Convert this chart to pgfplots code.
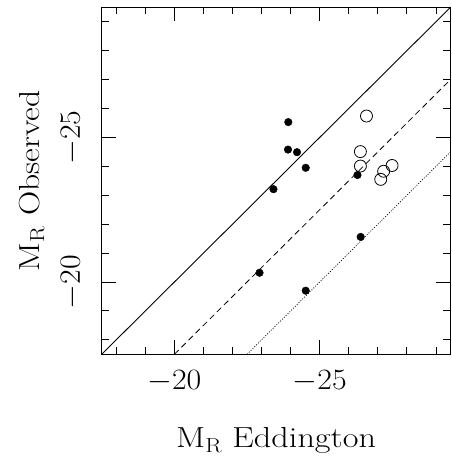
\RequirePackage{fix-cm}
\documentclass[border=0pt]{standalone}
\usepackage{pgfplots}
\usepackage{graphicx}
\pgfplotsset{compat=1.18}
\begin{document}
\begin{tikzpicture}
\path[use as bounding box] (-101.7pt,-103.7pt) rectangle (349.3pt,354.3pt);
\begin{axis}[
  at={(0pt,0pt)}, anchor=south west,
  scale only axis, width=348.8pt, height=347pt,
  x dir=reverse, y dir=reverse,
  xmin=-29.5, xmax=-17.5, ymin=-29.5, ymax=-17.5,
  xtick={-20,-25}, ytick={-20,-25},
  xticklabels={\scalebox{1.08}[1]{$-20$}, \scalebox{1.08}[1]{$-25$}},
  yticklabels={\scalebox{1.08}[1]{$-20$}, \scalebox{1.08}[1]{$-25$}},
  minor xtick={-18,-19,-21,-22,-23,-24,-26,-27,-28,-29},
  minor ytick={-18,-19,-21,-22,-23,-24,-26,-27,-28,-29},
  tick align=inside, major tick length=14pt, minor tick length=7pt,
  axis line style={line width=1.1pt},
  every tick/.style={black, line width=0.9pt},
  ticklabel style={font=\fontsize{29.5}{34}\selectfont},
  xticklabel style={anchor=base, inner sep=0pt, yshift=-35pt},
  yticklabel style={anchor=base, inner sep=0pt, xshift=-21.7pt, rotate=90},
  every axis x label/.style={at={([yshift=-93.4pt]axis description cs:0.5,0)}, anchor=base, font=\fontsize{29}{34}\selectfont},
  every axis y label/.style={at={([xshift=-62pt]axis description cs:0,0.5)}, anchor=base, rotate=90, font=\fontsize{29}{34}\selectfont},
  xlabel={\scalebox{1.18}[1]{M$_{\mathrm{R}}$ Eddington}},
  ylabel={\scalebox{1.16}[1]{M$_{\mathrm{R}}$ Observed}},
  clip=true,
]
\addplot[black, line width=0.9pt] coordinates {(-17.5,-17.5) (-29.5,-29.5)};
\addplot[black, line width=0.8pt, dash pattern=on 6pt off 4pt] coordinates {(-20,-17.5) (-29.5,-27)};
\addplot[black, line width=0.7pt, dash pattern=on 1pt off 1.6pt] coordinates {(-22.5,-17.5) (-29.5,-24.5)};
% filled points
\addplot[only marks, mark=*, mark size=3.8pt, black] coordinates {
(-23.92,-25.53) (-23.91,-24.58) (-24.22,-24.49) (-24.52,-23.95) (-23.41,-23.21)
(-26.30,-23.70) (-26.41,-21.56) (-22.93,-20.32) (-24.52,-19.70)
};
% open points
\addplot[only marks, mark=o, mark size=6pt, black, line width=0.8pt] coordinates {
(-26.61,-25.74) (-26.40,-24.51) (-26.40,-24.01) (-27.20,-23.83) (-27.49,-24.03) (-27.10,-23.55)
};
\end{axis}
\end{tikzpicture}
\end{document}
